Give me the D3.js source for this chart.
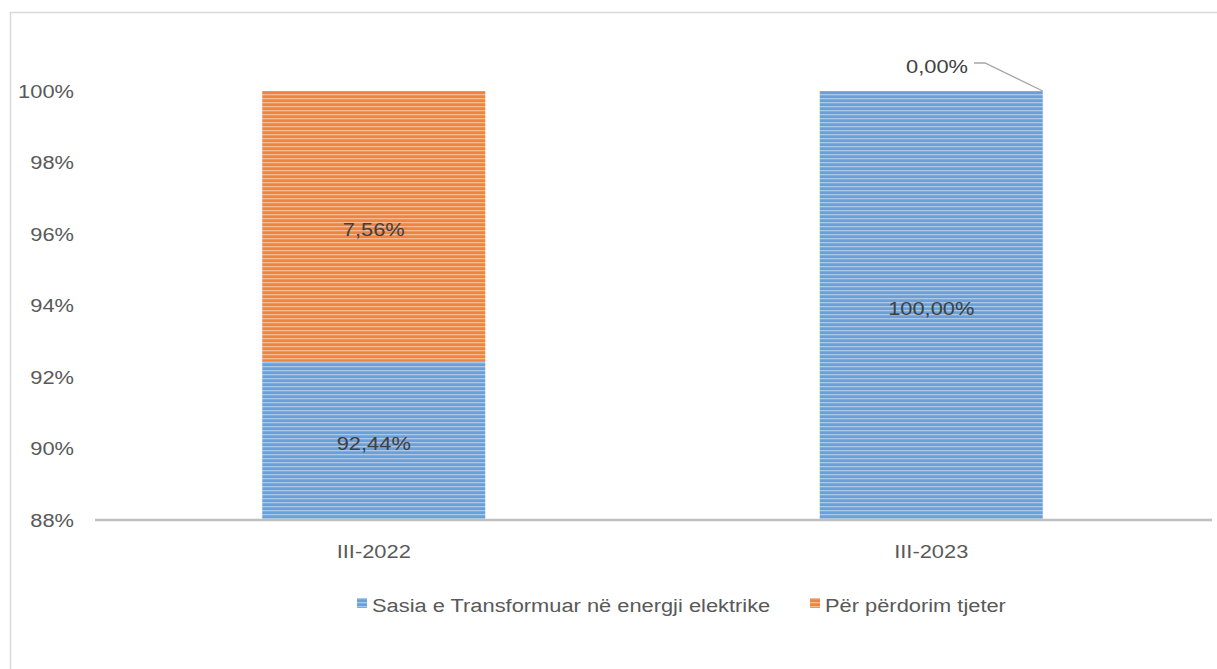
<!DOCTYPE html>
<html>
<head>
<meta charset="utf-8">
<script src="https://cdn.jsdelivr.net/npm/d3@7"></script>
<style>
  body { margin: 0; background: #fff; }
  text { font-family: "Liberation Sans", Arial, sans-serif; }
</style>
</head>
<body>
<svg id="chart" width="1217" height="669"></svg>
<script>
// data
const categories = ['III-2022', 'III-2023'];
const seriesNames = ['Sasia e Transformuar në energji elektrike', 'Për përdorim tjeter'];
const transformuar = [92.44, 100.00];
const tjeter = [7.56, 0.00];
const yTicks = [88, 90, 92, 94, 96, 98, 100];

const svg = d3.select('#chart');
const width = 1217, height = 669;
const FS = 19, SX = 1.15;  // font size + horizontal stretch of the original rendering

// text helper: places a horizontally stretched label
const label = (g, px, py, str, anchor, color) =>
    g.append('text')
        .attr('transform', `translate(${px},${py}) scale(${SX},1)`)
        .attr('dy', '0.35em')
        .attr('text-anchor', anchor)
        .attr('font-size', FS)
        .attr('fill', color)
        .text(str);

// stripe patterns
const defs = svg.append('defs');
const makePattern = (id, dark, light) => {
    const p = defs.append('pattern').attr('id', id)
        .attr('patternUnits', 'userSpaceOnUse').attr('width', 8).attr('height', 4);
    p.append('rect').attr('width', 8).attr('height', 4).attr('fill', dark);
    p.append('rect').attr('y', 2).attr('width', 8).attr('height', 1.3).attr('fill', light);
};
makePattern('blueStripe', '#6a9fd8', '#a9c9ec');
makePattern('orangeStripe', '#ee8440', '#f7bb91');
const fills = ['url(#blueStripe)', 'url(#orangeStripe)'];

// frame
svg.append('path')
    .attr('d', `M10.5,${height} V12.5 H${width}`)
    .attr('fill', 'none').attr('stroke', '#d9d9d9').attr('stroke-width', 1.5);

const x = d3.scaleBand().domain(categories).range([95, 1210]).paddingInner(0.6).paddingOuter(0.3);
const y = d3.scaleLinear().domain([88, 100]).range([520, 91]);

// y axis labels
const yg = svg.append('g');
yTicks.forEach(d => label(yg, 74, y(d), d + '%', 'end', '#595959'));

// stacked data
const stackData = categories.map((c, i) => ({ cat: c, a: transformuar[i], b: tjeter[i] }));
const stack = d3.stack().keys(['a', 'b'])(stackData);

const clip = v => Math.max(88, Math.min(100, v));
const fmt = v => v.toFixed(2).replace('.', ',') + '%';

stack.forEach((layer, li) => {
    svg.append('g').selectAll('rect').data(layer).join('rect')
        .attr('x', d => x(d.data.cat))
        .attr('width', x.bandwidth())
        .attr('y', d => y(clip(d[1])))
        .attr('height', d => y(clip(d[0])) - y(clip(d[1])))
        .attr('fill', fills[li]);
});

// x axis line
svg.append('line').attr('x1', 95).attr('x2', 1212).attr('y1', y(88)).attr('y2', y(88))
    .attr('stroke', '#bfbfbf').attr('stroke-width', 2.5);

// category labels
const xg = svg.append('g');
categories.forEach(c => label(xg, x(c) + x.bandwidth() / 2, 551, c, 'middle', '#595959'));

// data labels
const lg = svg.append('g');
stack.forEach(layer => {
    layer.forEach(d => {
        const v = d[1] - d[0];
        const cx = x(d.data.cat) + x.bandwidth() / 2;
        if (v > 0) {
            const mid = (clip(d[0]) + clip(d[1])) / 2;
            label(lg, cx, y(mid) + 3, fmt(v), 'middle', '#404040');
        } else {
            // zero-value label with leader line
            const tx = 968, ty = 66;
            label(lg, tx, ty, fmt(v), 'end', '#404040');
            svg.append('polyline')
                .attr('points', `${tx + 6},${ty - 3} ${tx + 17},${ty - 3} ${x(d.data.cat) + x.bandwidth()},${y(clip(d[1]))}`)
                .attr('fill', 'none').attr('stroke', '#a6a6a6').attr('stroke-width', 1.3);
        }
    });
});

// legend
const legendX = [357, 810];
const leg = svg.append('g');
seriesNames.forEach((name, i) => {
    leg.append('rect').attr('x', legendX[i]).attr('y', 598).attr('width', 10).attr('height', 10)
        .attr('fill', fills[i]);
    label(leg, legendX[i] + 15, 605, name, 'start', '#595959');
});
</script>
</body>
</html>
